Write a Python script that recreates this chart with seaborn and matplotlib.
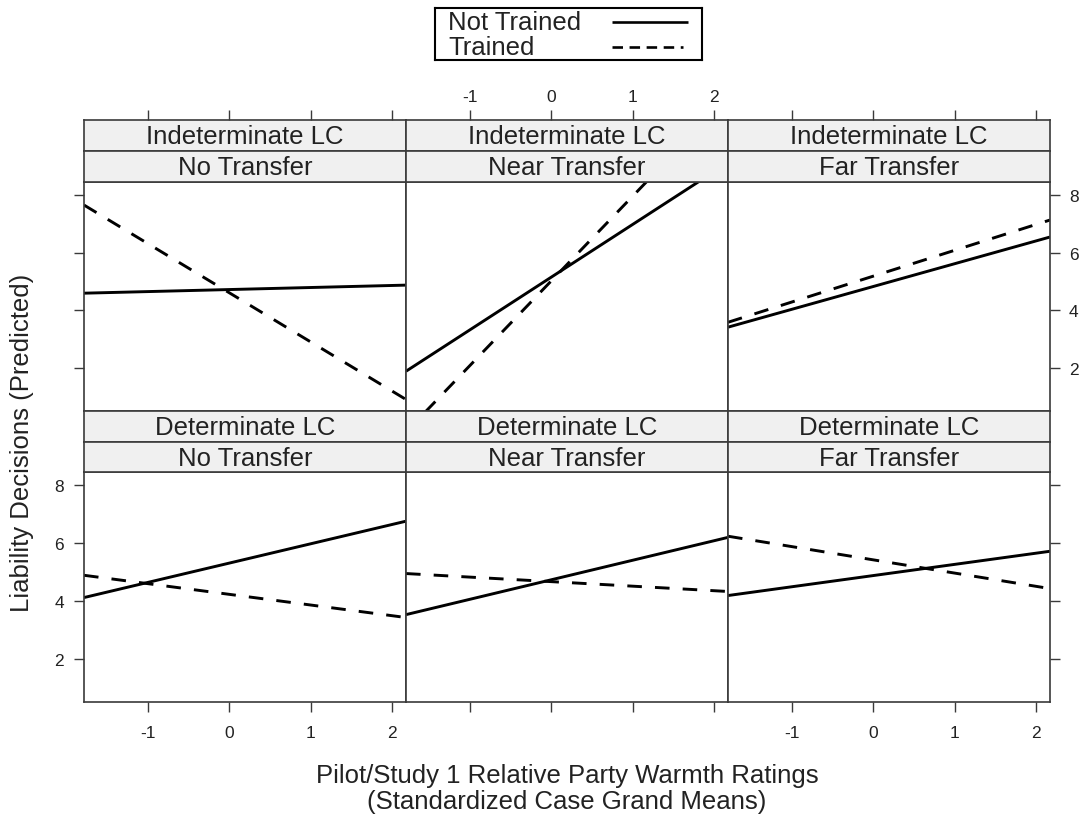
import matplotlib
matplotlib.use("Agg")
import matplotlib.pyplot as plt
import numpy as np
import pandas as pd
import seaborn as sns

# ---- data: predicted liability at the two ends of the warmth range ----
lc_levels = ["Indeterminate LC", "Determinate LC"]
transfer_levels = ["No Transfer", "Near Transfer", "Far Transfer"]
training_levels = ["Not Trained", "Trained"]
warmth_ends = [-1.78, 2.17]

# panel order: Indeterminate (No, Near, Far), Determinate (No, Near, Far)
not_trained_low = [4.59, 1.88, 3.41, 4.11, 3.52, 4.18]
not_trained_high = [4.87, 9.12, 6.54, 6.75, 6.19, 5.71]
trained_low = [7.65, -0.23, 3.58, 4.88, 4.94, 6.23]
trained_high = [0.90, 11.40, 7.13, 3.42, 4.32, 4.42]

x_ticks = [-1, 0, 1, 2]
y_ticks = [2, 4, 6, 8]
x_limits = (-1.78, 2.17)
y_limits = (0.5, 8.45)

rows = []
k = 0
for lc in lc_levels:
    for tr in transfer_levels:
        for training, lo, hi in [("Not Trained", not_trained_low[k], not_trained_high[k]),
                                 ("Trained", trained_low[k], trained_high[k])]:
            rows.append(dict(lc=lc, transfer=tr, training=training, warmth=warmth_ends[0], liability=lo))
            rows.append(dict(lc=lc, transfer=tr, training=training, warmth=warmth_ends[1], liability=hi))
        k += 1
df = pd.DataFrame(rows)

# ---- styling ----
sns.set_theme(style="ticks")
plt.rcParams["font.family"] = ["Liberation Sans", "DejaVu Sans"]
plt.rcParams["axes.unicode_minus"] = False
W, H = 1086, 820
FS = 18.5
TICK_FS = 12.5
EDGE = "#3a3a3a"
TXT = "#222222"
STRIP_BG = "#f0f0f0"
dash_map = {"Not Trained": "", "Trained": (5, 4.5)}
LW = 2.1

fig = plt.figure(figsize=(W / 100, H / 100), dpi=100)


def box(x0, y0, x1, y1):
    return [x0 / W, 1 - y1 / H, (x1 - x0) / W, (y1 - y0) / H]


col_x = [84, 406, 728, 1050]
# (strip1 top, strip2 top, panel top, panel bottom) for each row
row_y = [(121, 152, 183, 412), (412, 443, 473, 703)]


def style_spines(ax, color=EDGE, lw=1.2):
    for s in ax.spines.values():
        s.set_color(color)
        s.set_linewidth(lw)


for r, lc in enumerate(lc_levels):
    s1, s2, p0, p1 = row_y[r]
    for c, tr in enumerate(transfer_levels):
        x0, x1 = col_x[c], col_x[c + 1]
        ax = fig.add_axes(box(x0, p0, x1, p1))
        sub = df[(df.lc == lc) & (df.transfer == tr)]
        sns.lineplot(data=sub, x="warmth", y="liability", style="training",
                     style_order=training_levels, dashes=dash_map, color="black",
                     linewidth=LW, ax=ax, legend=False)
        for ln in ax.get_lines():
            ln.set_dash_capstyle("butt")
            ln.set_solid_capstyle("butt")
        ax.set_xlim(*x_limits)
        ax.set_ylim(*y_limits)
        ax.set_xlabel("")
        ax.set_ylabel("")
        style_spines(ax)
        ax.tick_params(length=7.5, width=1.0, color=EDGE, labelsize=TICK_FS,
                       labelcolor=TXT)
        ax.set_yticks(y_ticks)
        ax.set_xticks(x_ticks)
        if r == 1:
            ax.tick_params(axis="x", bottom=True, top=False,
                           labelbottom=(c != 1), labeltop=False, pad=9)
        else:
            ax.tick_params(axis="x", bottom=False, top=False,
                           labelbottom=False, labeltop=False)
        ax.tick_params(axis="y", left=(c == 0), right=(c == 2),
                       labelleft=(c == 0 and r == 1),
                       labelright=(c == 2 and r == 0))
        if c == 0:
            ax.tick_params(axis="y", pad=7)
        if c == 2:
            ax.tick_params(axis="y", pad=6)

        # strips: LC on top, transfer underneath
        for (ya, yb), label in [((s1, s2), lc), ((s2, p0), tr)]:
            sax = fig.add_axes(box(x0, ya, x1, yb))
            sax.set_facecolor(STRIP_BG)
            sax.set_yticks([])
            style_spines(sax)
            sax.text(0.5, 0.47, label, transform=sax.transAxes, ha="center",
                     va="center", fontsize=FS, color=TXT)
            sax.set_xlim(*x_limits)
            if r == 0 and ya == s1:
                sax.set_xticks(x_ticks)
                sax.tick_params(axis="x", bottom=False, labelbottom=False,
                                top=True, labeltop=(c == 1), length=7.5,
                                width=1.0, color=EDGE, labelsize=TICK_FS,
                                labelcolor=TXT, pad=4)
            else:
                sax.set_xticks([])

# key: labels on the left, line samples on the right
kax = fig.add_axes(box(435, 9, 702, 61))
kax.set_xlim(435, 702)
kax.set_ylim(61, 9)
kax.set_xticks([])
kax.set_yticks([])
kax.set_facecolor("white")
style_spines(kax, color="black", lw=1.5)
key_rows = [("Not Trained", 23, 688), ("Trained", 48, 683)]
for label, ky, xend in key_rows:
    kax.text(448, ky, label, ha="left", va="center", fontsize=FS, color=TXT,
             clip_on=False)
    kax.plot([612, xend], [ky, ky], color="black", linewidth=LW * 0.9,
             linestyle="-" if label == "Not Trained" else (0, (4, 2.5)),
             solid_capstyle="butt", dash_capstyle="butt")

fig.text(22 / W, 1 - 443 / H, "Liability Decisions (Predicted)", rotation=90,
         ha="center", va="center", fontsize=FS, color=TXT)
fig.text(567 / W, 1 - 789 / H,
         "Pilot/Study 1 Relative Party Warmth Ratings\n(Standardized Case Grand Means)",
         ha="center", va="center", fontsize=FS, color=TXT, linespacing=1.12)

fig.savefig("out.png", dpi=100)
